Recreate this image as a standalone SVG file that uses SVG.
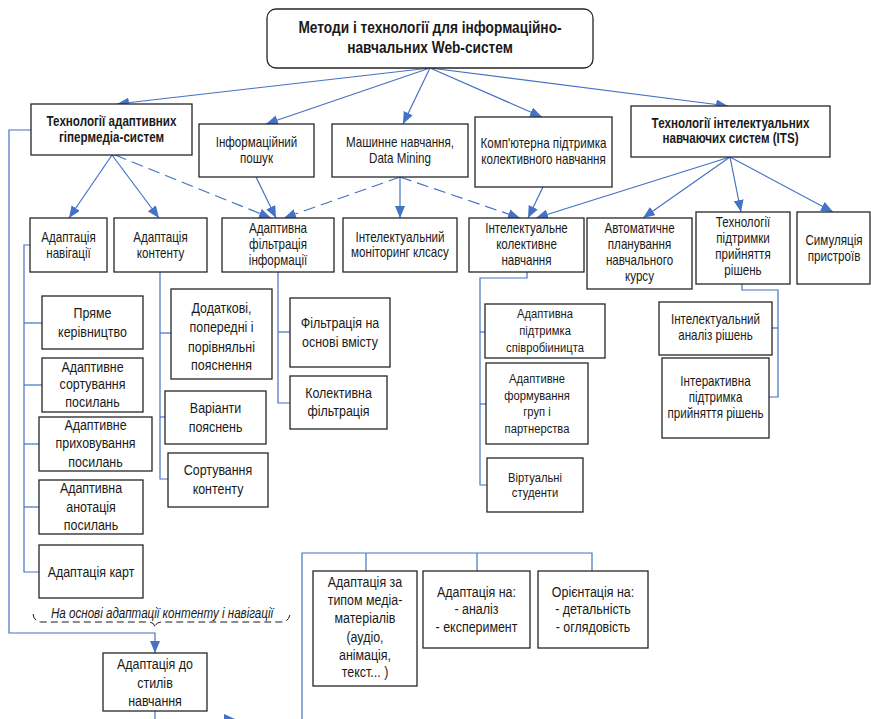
<svg xmlns="http://www.w3.org/2000/svg" width="871" height="719" viewBox="0 0 871 719">
  <defs>
    <style>
      .box { fill: #ffffff; stroke: #262626; stroke-width: 1.3; }
      .ln { fill: none; stroke: #4472c4; stroke-width: 1.2; }
      .dash { stroke-dasharray: 12 6; }
      .tx { font-family: "Liberation Sans", Arial, sans-serif; fill: #1a1a1a; text-anchor: middle; font-size: 14px; }
      .bd { font-weight: bold; }
      .s13 { font-size: 13.5px; }
      .s15 { font-size: 15px; }
      .s16 { font-size: 16.5px; }
      .brace { fill: none; stroke: #1a1a1a; stroke-width: 1; stroke-dasharray: 7 4; }
    </style>
    <marker id="arr" markerUnits="userSpaceOnUse" markerWidth="13" markerHeight="10" refX="12" refY="5" orient="auto">
      <path d="M0,0 L12,5 L0,10 z" fill="#4472c4"/>
    </marker>
  </defs>

  <rect width="871" height="719" fill="#ffffff"/>

  <!-- connectors -->
  <g id="connectors">
    <!-- root to first level -->
    <line class="ln" x1="430" y1="68" x2="117" y2="104" marker-end="url(#arr)"/>
    <line class="ln" x1="430" y1="68" x2="266" y2="124" marker-end="url(#arr)"/>
    <line class="ln" x1="430" y1="68" x2="403" y2="124" marker-end="url(#arr)"/>
    <line class="ln" x1="430" y1="68" x2="542" y2="117" marker-end="url(#arr)"/>
    <line class="ln" x1="430" y1="68" x2="728" y2="106" marker-end="url(#arr)"/>

    <!-- adaptive hypermedia -->
    <line class="ln" x1="112" y1="155" x2="69" y2="218" marker-end="url(#arr)"/>
    <line class="ln" x1="112" y1="155" x2="159" y2="218" marker-end="url(#arr)"/>
    <line class="ln dash" x1="115" y1="155" x2="271" y2="218" marker-end="url(#arr)"/>

    <!-- information retrieval, data mining, CSCL -->
    <line class="ln" x1="256" y1="177" x2="276" y2="218" marker-end="url(#arr)"/>
    <line class="ln dash" x1="400" y1="177" x2="284" y2="218" marker-end="url(#arr)"/>
    <line class="ln" x1="400" y1="177" x2="400" y2="218" marker-end="url(#arr)"/>
    <line class="ln dash" x1="400" y1="177" x2="520" y2="218" marker-end="url(#arr)"/>
    <line class="ln" x1="543" y1="187" x2="528" y2="218" marker-end="url(#arr)"/>

    <!-- ITS -->
    <line class="ln" x1="730" y1="157" x2="536" y2="218" marker-end="url(#arr)"/>
    <line class="ln" x1="730" y1="157" x2="643" y2="218" marker-end="url(#arr)"/>
    <line class="ln" x1="730" y1="157" x2="741" y2="212" marker-end="url(#arr)"/>
    <line class="ln" x1="730" y1="157" x2="833" y2="212" marker-end="url(#arr)"/>

    <!-- outer bracket to learning styles -->
    <polyline class="ln" points="31,130 9,130 9,633 155,633 155,653" marker-end="url(#arr)"/>

    <!-- navigation adaptation tree -->
    <polyline class="ln" points="30,245 24,245 24,572 39,572"/>
    <line class="ln" x1="24" y1="323" x2="42" y2="323"/>
    <line class="ln" x1="24" y1="385" x2="42" y2="385"/>
    <line class="ln" x1="24" y1="444" x2="39" y2="444"/>
    <line class="ln" x1="24" y1="507" x2="39" y2="507"/>

    <!-- content adaptation tree -->
    <polyline class="ln" points="160,272 160,479 168,479"/>
    <line class="ln" x1="160" y1="333" x2="171" y2="333"/>
    <line class="ln" x1="160" y1="417" x2="165" y2="417"/>

    <!-- filtering tree -->
    <polyline class="ln" points="278,272 278,403 290,403"/>
    <line class="ln" x1="278" y1="332" x2="290" y2="332"/>

    <!-- collaborative learning tree -->
    <polyline class="ln" points="527,272 527,278 480,278 480,485 487,485"/>
    <line class="ln" x1="480" y1="332" x2="485" y2="332"/>
    <line class="ln" x1="480" y1="404" x2="486" y2="404"/>

    <!-- decision support tree -->
    <polyline class="ln" points="742,284 742,290 778,290 778,397 769,397"/>
    <line class="ln" x1="778" y1="328" x2="772" y2="328"/>

    <!-- learning styles branches -->
    <polyline class="ln" points="302,719 302,553 592,553 592,571"/>
    <line class="ln" x1="366" y1="553" x2="366" y2="571"/>
    <line class="ln" x1="477" y1="553" x2="477" y2="571"/>
    <line class="ln" x1="155" y1="711" x2="155" y2="719"/>
    <polygon points="224,714 235,719 224,719" fill="#4472c4"/>

    <!-- dashed brace under the caption -->
    <path class="brace" d="M33,614 Q34,622 42,622 L148,622 Q155,622 155,628 Q155,622 162,622 L281,622 Q289,622 290,614"/>
  </g>
  <g transform="translate(162 0) scale(0.83 1)">
    <text class="tx" x="0" y="618" font-style="italic">На основі адаптації контенту і навігації</text>
  </g>

  <!-- root -->
  <g id="root">
    <rect class="box" x="267" y="9" width="326" height="59" rx="9"/>
    <g transform="translate(430 0) scale(0.83 1)">
      <text class="tx bd s16" x="0" y="33">Методи і технології для інформаційно-</text>
      <text class="tx bd s16" x="0" y="53">навчальних Web-систем</text>
    </g>
  </g>

  <!-- first level -->
  <g id="n-hypermedia">
    <rect class="box" x="31" y="104" width="161" height="51"/>
    <g transform="translate(111.5 0) scale(0.83 1)">
      <text class="tx bd" x="0" y="126">Технології адаптивних</text>
      <text class="tx bd" x="0" y="142">гіпермедіа-систем</text>
    </g>
  </g>
  <g id="n-search">
    <rect class="box" x="199" y="124" width="115" height="53"/>
    <g transform="translate(256.5 0) scale(0.83 1)">
      <text class="tx" x="0" y="147">Інформаційний</text>
      <text class="tx" x="0" y="163">пошук</text>
    </g>
  </g>
  <g id="n-ml">
    <rect class="box" x="332" y="124" width="136" height="53"/>
    <g transform="translate(400 0) scale(0.83 1)">
      <text class="tx" x="0" y="147">Машинне навчання,</text>
      <text class="tx" x="0" y="163">Data Mining</text>
    </g>
  </g>
  <g id="n-cscl">
    <rect class="box" x="475" y="117" width="137" height="70"/>
    <g transform="translate(543.5 0) scale(0.83 1)">
      <text class="tx" x="0" y="148">Комп'ютерна підтримка</text>
      <text class="tx" x="0" y="164">колективного навчання</text>
    </g>
  </g>
  <g id="n-its">
    <rect class="box" x="631" y="106" width="199" height="51"/>
    <g transform="translate(730.5 0) scale(0.83 1)">
      <text class="tx bd" x="0" y="128">Технології інтелектуальних</text>
      <text class="tx bd" x="0" y="143">навчаючих систем (ITS)</text>
    </g>
  </g>

  <!-- second level -->
  <g id="n-nav">
    <rect class="box" x="30" y="218" width="77" height="54"/>
    <g transform="translate(68.5 0) scale(0.83 1)">
      <text class="tx" x="0" y="242">Адаптація</text>
      <text class="tx" x="0" y="258">навігації</text>
    </g>
  </g>
  <g id="n-content">
    <rect class="box" x="114" y="218" width="93" height="54"/>
    <g transform="translate(160.5 0) scale(0.83 1)">
      <text class="tx" x="0" y="242">Адаптація</text>
      <text class="tx" x="0" y="258">контенту</text>
    </g>
  </g>
  <g id="n-filter">
    <rect class="box" x="222" y="218" width="112" height="54"/>
    <g transform="translate(278 0) scale(0.83 1)">
      <text class="tx" x="0" y="233">Адаптивна</text>
      <text class="tx" x="0" y="249">фільтрація</text>
      <text class="tx" x="0" y="265">інформації</text>
    </g>
  </g>
  <g id="n-monitor">
    <rect class="box" x="343" y="218" width="114" height="54"/>
    <g transform="translate(400 0) scale(0.83 1)">
      <text class="tx" x="0" y="242">Інтелектуальний</text>
      <text class="tx" x="0" y="257">моніторинг клсасу</text>
    </g>
  </g>
  <g id="n-collab">
    <rect class="box" x="469" y="218" width="115" height="54"/>
    <g transform="translate(526.5 0) scale(0.83 1)">
      <text class="tx" x="0" y="233">Інтелектуальне</text>
      <text class="tx" x="0" y="249">колективне</text>
      <text class="tx" x="0" y="265">навчання</text>
    </g>
  </g>
  <g id="n-planning">
    <rect class="box" x="587" y="218" width="105" height="71"/>
    <g transform="translate(639.5 0) scale(0.83 1)">
      <text class="tx" x="0" y="233">Автоматичне</text>
      <text class="tx" x="0" y="249">планування</text>
      <text class="tx" x="0" y="265">навчального</text>
      <text class="tx" x="0" y="281">курсу</text>
    </g>
  </g>
  <g id="n-decision">
    <rect class="box" x="696" y="212" width="94" height="72"/>
    <g transform="translate(743 0) scale(0.83 1)">
      <text class="tx" x="0" y="227">Технології</text>
      <text class="tx" x="0" y="243">підтримки</text>
      <text class="tx" x="0" y="259">прийняття</text>
      <text class="tx" x="0" y="275">рішень</text>
    </g>
  </g>
  <g id="n-simulation">
    <rect class="box" x="797" y="212" width="73" height="72"/>
    <g transform="translate(834 0) scale(0.83 1)">
      <text class="tx" x="0" y="245">Симуляція</text>
      <text class="tx" x="0" y="261">пристроїв</text>
    </g>
  </g>

  <!-- navigation adaptation leaves -->
  <g id="n-direct">
    <rect class="box" x="42" y="296" width="101" height="53"/>
    <g transform="translate(92.5 0) scale(0.83 1)">
      <text class="tx s15" x="0" y="318">Пряме</text>
      <text class="tx s15" x="0" y="337">керівництво</text>
    </g>
  </g>
  <g id="n-sorting">
    <rect class="box" x="42" y="358" width="101" height="54"/>
    <g transform="translate(92.5 0) scale(0.83 1)">
      <text class="tx s15" x="0" y="372">Адаптивне</text>
      <text class="tx s15" x="0" y="389">сортування</text>
      <text class="tx s15" x="0" y="407">посилань</text>
    </g>
  </g>
  <g id="n-hiding">
    <rect class="box" x="39" y="417" width="113" height="54"/>
    <g transform="translate(95.5 0) scale(0.83 1)">
      <text class="tx s15" x="0" y="430">Адаптивне</text>
      <text class="tx s15" x="0" y="448">приховування</text>
      <text class="tx s15" x="0" y="467">посилань</text>
    </g>
  </g>
  <g id="n-annotation">
    <rect class="box" x="39" y="480" width="104" height="54"/>
    <g transform="translate(91 0) scale(0.83 1)">
      <text class="tx s15" x="0" y="493">Адаптивна</text>
      <text class="tx s15" x="0" y="512">анотація</text>
      <text class="tx s15" x="0" y="530">посилань</text>
    </g>
  </g>
  <g id="n-maps">
    <rect class="box" x="39" y="545" width="104" height="53"/>
    <g transform="translate(91 0) scale(0.83 1)">
      <text class="tx s15" x="0" y="577">Адаптація карт</text>
    </g>
  </g>
  <g id="n-styles">
    <rect class="box" x="103" y="653" width="104" height="58"/>
    <g transform="translate(155 0) scale(0.83 1)">
      <text class="tx s15" x="0" y="669">Адаптація до</text>
      <text class="tx s15" x="0" y="688">стилів</text>
      <text class="tx s15" x="0" y="706">навчання</text>
    </g>
  </g>

  <!-- content adaptation leaves -->
  <g id="n-explanations">
    <rect class="box" x="171" y="289" width="101" height="90"/>
    <g transform="translate(221.5 0) scale(0.83 1)">
      <text class="tx s15" x="0" y="313">Додаткові,</text>
      <text class="tx s15" x="0" y="332">попередні і</text>
      <text class="tx s15" x="0" y="352">порівняльні</text>
      <text class="tx s15" x="0" y="370">пояснення</text>
    </g>
  </g>
  <g id="n-variants">
    <rect class="box" x="165" y="391" width="101" height="53"/>
    <g transform="translate(215.5 0) scale(0.83 1)">
      <text class="tx s15" x="0" y="413">Варіанти</text>
      <text class="tx s15" x="0" y="432">пояснень</text>
    </g>
  </g>
  <g id="n-content-sort">
    <rect class="box" x="168" y="453" width="100" height="54"/>
    <g transform="translate(218 0) scale(0.83 1)">
      <text class="tx s15" x="0" y="475">Сортування</text>
      <text class="tx s15" x="0" y="494">контенту</text>
    </g>
  </g>

  <!-- filtering leaves -->
  <g id="n-content-filter">
    <rect class="box" x="290" y="298" width="100" height="69"/>
    <g transform="translate(340 0) scale(0.83 1)">
      <text class="tx s15" x="0" y="328">Фільтрація на</text>
      <text class="tx s15" x="0" y="347">основі вмісту</text>
    </g>
  </g>
  <g id="n-collab-filter">
    <rect class="box" x="290" y="376" width="97" height="53"/>
    <g transform="translate(338.5 0) scale(0.83 1)">
      <text class="tx s15" x="0" y="398">Колективна</text>
      <text class="tx s15" x="0" y="416">фільтрація</text>
    </g>
  </g>

  <!-- collaborative learning leaves -->
  <g id="n-coop">
    <rect class="box" x="485" y="304" width="120" height="54"/>
    <g transform="translate(545 0) scale(0.83 1)">
      <text class="tx s13" x="0" y="318">Адаптивна</text>
      <text class="tx s13" x="0" y="335">підтримка</text>
      <text class="tx s13" x="0" y="352">співробіиницта</text>
    </g>
  </g>
  <g id="n-groups">
    <rect class="box" x="486" y="363" width="102" height="81"/>
    <g transform="translate(537 0) scale(0.83 1)">
      <text class="tx s13" x="0" y="383">Адаптивне</text>
      <text class="tx s13" x="0" y="400">формування</text>
      <text class="tx s13" x="0" y="416">груп і</text>
      <text class="tx s13" x="0" y="433">партнерства</text>
    </g>
  </g>
  <g id="n-virtual">
    <rect class="box" x="487" y="458" width="96" height="54"/>
    <g transform="translate(535 0) scale(0.83 1)">
      <text class="tx s13" x="0" y="482">Віртуальні</text>
      <text class="tx s13" x="0" y="497">студенти</text>
    </g>
  </g>

  <!-- decision support leaves -->
  <g id="n-analysis">
    <rect class="box" x="659" y="302" width="113" height="53"/>
    <g transform="translate(715.5 0) scale(0.83 1)">
      <text class="tx" x="0" y="324">Інтелектуальний</text>
      <text class="tx" x="0" y="340">аналіз рішень</text>
    </g>
  </g>
  <g id="n-interactive">
    <rect class="box" x="662" y="358" width="107" height="80"/>
    <g transform="translate(715.5 0) scale(0.83 1)">
      <text class="tx" x="0" y="386">Інтерактивна</text>
      <text class="tx" x="0" y="402">підтримка</text>
      <text class="tx" x="0" y="418">прийняття рішень</text>
    </g>
  </g>

  <!-- learning style variants -->
  <g id="n-media">
    <rect class="box" x="313" y="571" width="104" height="115"/>
    <g transform="translate(365 0) scale(0.83 1)">
      <text class="tx s15" x="0" y="587">Адаптація за</text>
      <text class="tx s15" x="0" y="605">типом медіа-</text>
      <text class="tx s15" x="0" y="623">матеріалів</text>
      <text class="tx s15" x="0" y="642">(аудіо,</text>
      <text class="tx s15" x="0" y="660">анімація,</text>
      <text class="tx s15" x="0" y="677">текст... )</text>
    </g>
  </g>
  <g id="n-analysis-exp">
    <rect class="box" x="423" y="571" width="107" height="77"/>
    <g transform="translate(476.5 0) scale(0.83 1)">
      <text class="tx s15" x="0" y="597">Адаптація на:</text>
      <text class="tx s15" x="0" y="614">- аналіз</text>
      <text class="tx s15" x="0" y="632">- експеримент</text>
    </g>
  </g>
  <g id="n-orientation">
    <rect class="box" x="538" y="571" width="110" height="77"/>
    <g transform="translate(593 0) scale(0.83 1)">
      <text class="tx s15" x="0" y="597">Орієнтація на:</text>
      <text class="tx s15" x="0" y="614">- детальність</text>
      <text class="tx s15" x="0" y="632">- оглядовість</text>
    </g>
  </g>
</svg>
